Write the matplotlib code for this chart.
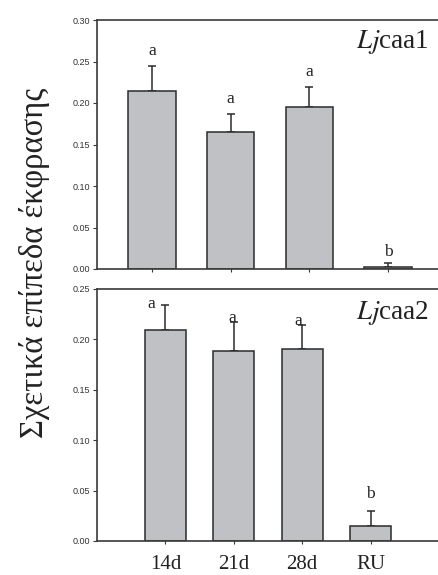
import matplotlib
matplotlib.use("Agg")
import matplotlib.pyplot as plt
import numpy as np

# Expression data for two genes across sampling times
categories = ["14d", "21d", "28d", "RU"]

caa1_mean = [0.215, 0.165, 0.195, 0.003]
caa1_err = [0.030, 0.022, 0.024, 0.004]
caa1_letters = ["a", "a", "a", "b"]

caa2_mean = [0.209, 0.188, 0.190, 0.015]
caa2_err = [0.025, 0.029, 0.024, 0.015]
caa2_letters = ["a", "a", "a", "b"]

y_ticks_top = [0.00, 0.05, 0.10, 0.15, 0.20, 0.25, 0.30]
y_ticks_bottom = [0.00, 0.05, 0.10, 0.15, 0.20, 0.25]

ylabel = "Σχετικά επίπεδα έκφρασης"

W, H = 438, 575
fig = plt.figure(figsize=(W / 100, H / 100), dpi=100)

BAR_COLOR = "#c0c1c5"
EDGE = "#2b2b2b"
SPINE = "#3a3a3a"
TEXT = "#222222"
SERIF = ["Liberation Serif", "DejaVu Serif"]
SANS = ["Liberation Sans", "DejaVu Sans"]


def px_axes(left, right, top, bottom):
    return fig.add_axes([left / W, 1 - bottom / H, (right - left) / W, (bottom - top) / H])


def draw_panel(ax, means, errs, letters, yticks, xlim, label_offsets, show_xlabels):
    x = np.arange(len(means))
    ax.bar(x, means, width=0.6, color=BAR_COLOR, edgecolor=EDGE, linewidth=1.1, zorder=2)
    ax.errorbar(x, means, yerr=[np.zeros(len(errs)), errs], fmt="none",
                ecolor=EDGE, elinewidth=1.1, capsize=3, capthick=1.1, zorder=1)
    ax.set_xlim(*xlim)
    ax.set_ylim(yticks[0], yticks[-1])
    ax.set_yticks(yticks)
    ax.set_yticklabels([f"{t:.2f}" for t in yticks], fontsize=6.5, family=SANS)
    ax.set_xticks(x)
    if show_xlabels:
        ax.set_xticklabels(categories, fontsize=15, family=SERIF)
    else:
        ax.set_xticklabels([])
    ax.tick_params(axis="y", direction="out", length=3, width=0.8, colors=SPINE, pad=2,
                   labelcolor="#333333")
    ax.tick_params(axis="x", direction="inout", length=4, width=0.8, colors=SPINE, pad=8,
                   labelcolor=TEXT)
    for s in ax.spines.values():
        s.set_color(SPINE)
        s.set_linewidth(1.2)
    # significance letters above the error bars
    for xi, m, e, lt, (dx, dy) in zip(x, means, errs, letters, label_offsets):
        ax.annotate(lt, (xi, m + e), xytext=(dx, dy), textcoords="offset points",
                    ha="center", va="bottom", fontsize=12.5, family=SERIF, color=TEXT)


ax1 = px_axes(97, 443, 20, 269)
draw_panel(ax1, caa1_mean, caa1_err, caa1_letters, y_ticks_top, (-0.7, 3.7),
           [(0, 5), (0, 5), (0, 5), (0, 2)], False)

ax2 = px_axes(97, 439, 289, 541)
draw_panel(ax2, caa2_mean, caa2_err, caa2_letters, y_ticks_bottom, (-1.0, 4.0),
           [(-10, -5), (-1, -3), (-3, -3), (0, 6)], True)

# Gene names in the upper right of each panel
for num, ypx in [(1, 42), (2, 313)]:
    fig.text(356 / W, 1 - ypx / H, r"$Lj$" + f"caa{num}", ha="left", va="center",
             fontsize=19.5, family=SERIF, math_fontfamily="stix", color=TEXT)

fig.text(35 / W, 1 - 263 / H, ylabel, rotation=90, ha="center", va="center",
         fontsize=23.5, family=SERIF, color=TEXT)

fig.savefig("out.png", dpi=100, facecolor="white")
